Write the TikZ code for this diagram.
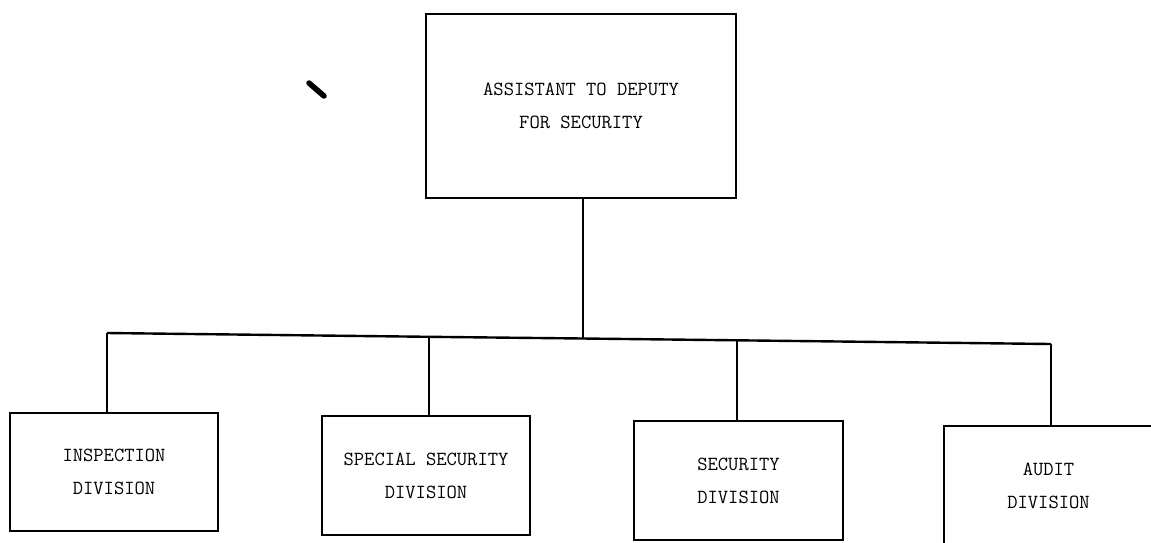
\documentclass[tikz,border=0pt]{standalone}
\usepackage{fontspec}
\begin{document}
\begin{tikzpicture}[x=1pt,y=-1pt,
  box/.style={draw=black,line width=1.3pt,rectangle,inner sep=0pt,align=center,
    font=\ttfamily\fontsize{20}{33}\selectfont},
  conn/.style={draw=black,line width=2.4pt},
  straymark/.style={line width=5.5pt,line cap=round}]
\useasboundingbox[fill=white] (0,0) rectangle (1151,542);
\begin{scope}
\clip (0,0) rectangle (1151,542);
\node[box,minimum width=310pt,minimum height=184pt] (top) at (581,106) {ASSISTANT TO DEPUTY\\FOR SECURITY};
\node[box,minimum width=208pt,minimum height=118pt] (b1) at (114,472) {INSPECTION\\DIVISION};
\node[box,minimum width=208pt,minimum height=119pt] (b2) at (426,475.5) {SPECIAL SECURITY\\DIVISION};
\node[box,minimum width=209pt,minimum height=119pt] (b3) at (738.5,480.5) {SECURITY\\DIVISION};
\node[box,minimum width=209pt,minimum height=119pt] (b4) at (1048.5,485.5) {AUDIT\\DIVISION};
\coordinate (j1) at (107,333);
\coordinate (j2) at (429,336.8);
\coordinate (j0) at (583,338.5);
\coordinate (j3) at (737,340.3);
\coordinate (j4) at (1051,344);
\draw[conn] (j1) -- (j2) -- (j0) -- (j3) -- (j4);
\draw[conn] (j0) -- (j0 |- top.south);
\draw[conn] (j1) -- (j1 |- b1.north);
\draw[conn] (j2) -- (j2 |- b2.north);
\draw[conn] (j3) -- (j3 |- b3.north);
\draw[conn] (j4) -- (j4 |- b4.north);
\draw[straymark] (309,83) -- (324,96);
\end{scope}
\end{tikzpicture}
\end{document}
